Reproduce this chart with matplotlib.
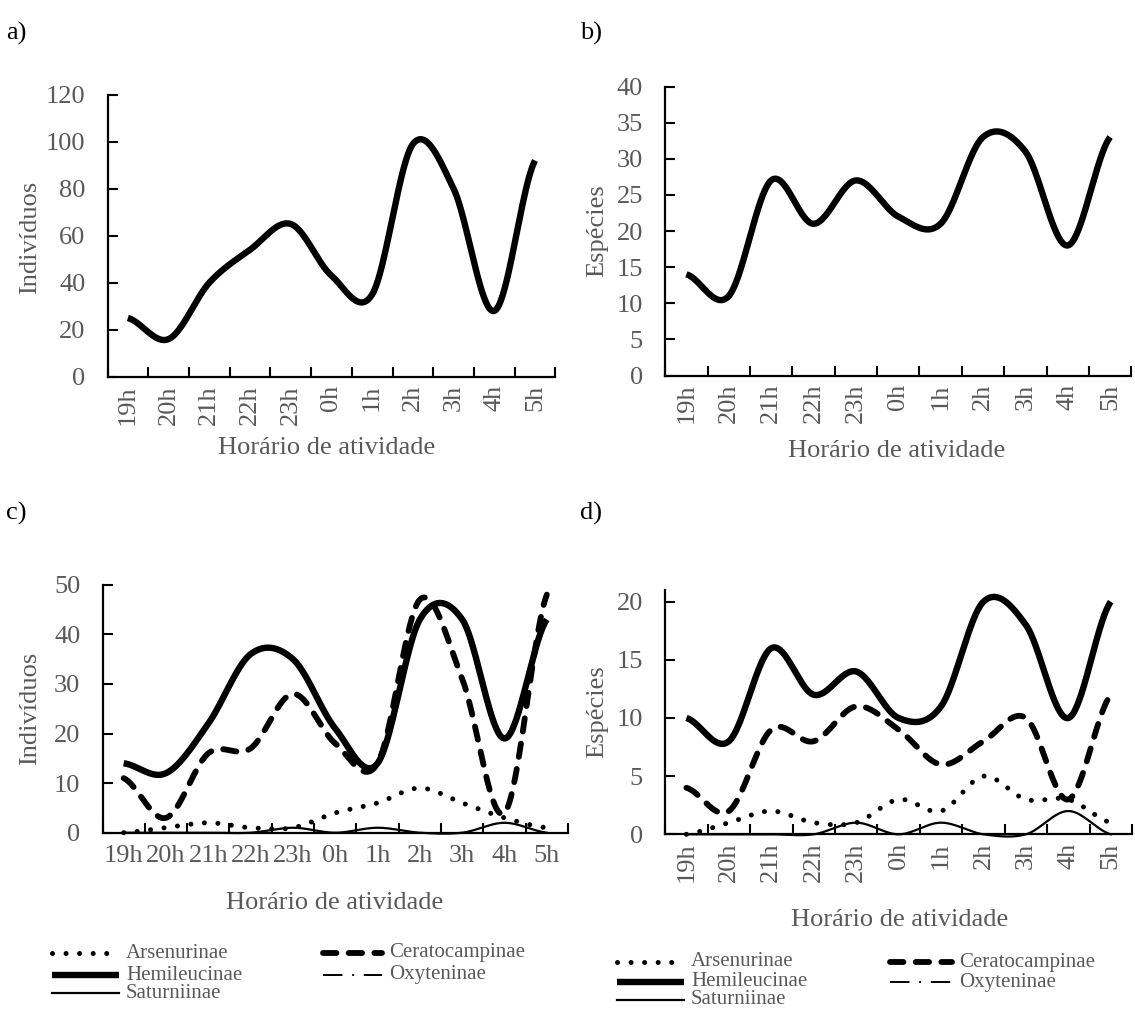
import numpy as np
import matplotlib
matplotlib.use('Agg')
import matplotlib.pyplot as plt
from matplotlib.lines import Line2D

# ---------------- data ----------------
hours = ['19h', '20h', '21h', '22h', '23h', '0h', '1h', '2h', '3h', '4h', '5h']
ind_total = [25, 16, 40, 54, 65, 43, 35, 99, 80, 28, 92]
spp_total = [14, 11, 27, 21, 27, 22, 21, 33, 31, 18, 33]

subfamilies = ['Arsenurinae', 'Ceratocampinae', 'Hemileucinae', 'Oxyteninae', 'Saturniinae']
ind_arsenurinae = [0, 1, 2, 1, 1, 4, 6, 9, 6, 3, 1]
ind_ceratocampinae = [11, 3, 16, 17, 28, 18, 14, 47, 31, 4, 48]
ind_hemileucinae = [14, 12, 22, 36, 35, 21, 14, 43, 43, 19, 43]
ind_oxyteninae = [0, 0, 0, 0, 0, 0, 0, 0, 0, 0, 0]
ind_saturniinae = [0, 0, 0, 0, 1, 0, 1, 0, 0, 2, 0]

spp_arsenurinae = [0, 1, 2, 1, 1, 3, 2, 5, 3, 3, 1]
spp_ceratocampinae = [4, 2, 9, 8, 11, 9, 6, 8, 10, 3, 12]
spp_hemileucinae = [10, 8, 16, 12, 14, 10, 11, 20, 18, 10, 20]
spp_oxyteninae = [0, 0, 0, 0, 0, 0, 0, 0, 0, 0, 0]
spp_saturniinae = [0, 0, 0, 0, 1, 0, 1, 0, 0, 2, 0]

# ---------------- style ----------------
plt.rcParams['font.family'] = ['Liberation Serif', 'DejaVu Serif']
GRAY = '#595959'
FS = 19
W, H = 1135, 1010
fig = plt.figure(figsize=(W / 100, H / 100), dpi=100)


def smooth(y, n=40):
    """Excel-like smoothed line (Catmull-Rom) through the data points."""
    y = np.asarray(y, float)
    p = np.concatenate([[y[0]], y, [y[-1]]])
    xs, ys = [], []
    m = len(y)
    for i in range(m - 1):
        p0, p1, p2, p3 = p[i], p[i + 1], p[i + 2], p[i + 3]
        t = np.linspace(0, 1, n, endpoint=(i == m - 2))
        m1 = (p2 - p0) / 2.0
        m2 = (p3 - p1) / 2.0
        h00 = 2 * t ** 3 - 3 * t ** 2 + 1
        h10 = t ** 3 - 2 * t ** 2 + t
        h01 = -2 * t ** 3 + 3 * t ** 2
        h11 = t ** 3 - t ** 2
        ys.append(h00 * p1 + h10 * m1 + h01 * p2 + h11 * m2)
        xs.append(i + t)
    return np.concatenate(xs), np.concatenate(ys)


def make_axes(left, right, y0, yref, yref_val, ymax):
    ppu = (y0 - yref) / yref_val
    top = y0 - ymax * ppu
    ax = fig.add_axes([left / W, 1 - y0 / H, (right - left) / W, (y0 - top) / H])
    ax.set_ylim(0, ymax)
    ax.set_xlim(-0.5, len(hours) - 0.5)
    for s in ['top', 'right']:
        ax.spines[s].set_visible(False)
    for s in ['left', 'bottom']:
        ax.spines[s].set_linewidth(1.6)
        ax.spines[s].set_color('black')
    ax.set_xticks(np.arange(-0.5, len(hours), 1.0))
    ax.set_xticklabels([])
    ax.tick_params(axis='x', which='major', direction='in', length=7, width=1.5, color='black')
    ax.set_xticks(np.arange(len(hours)), minor=True)
    ax.tick_params(axis='y', which='major', direction='in', length=7, width=1.5,
                   color='black', labelcolor=GRAY, labelsize=FS, pad=16)
    ax.patch.set_alpha(0)
    return ax


def set_hour_labels(ax, rotation, pad):
    ax.set_xticklabels(hours, minor=True, rotation=rotation, color=GRAY, fontsize=FS,
                       ha='center', va='top')
    ax.tick_params(axis='x', which='minor', length=0, pad=pad)


SPEC = {
    'Arsenurinae': dict(lw=3.6, ls=(0, (0.01, 2.7)), dash_capstyle='round'),
    'Ceratocampinae': dict(lw=4.2, ls=(0, (2.3, 2.1)), dash_capstyle='round'),
    'Hemileucinae': dict(lw=4.6, ls='-', solid_capstyle='butt'),
    'Oxyteninae': dict(lw=1.4, ls=(0, (10, 5, 1, 5))),
    'Saturniinae': dict(lw=1.6, ls='-'),
}


def draw_sub(ax, series):
    for name, vals in zip(subfamilies, series):
        xs, ys = smooth(vals)
        sp = SPEC[name]
        kw = {k: v for k, v in sp.items() if k not in ('lw', 'ls')}
        ax.plot(xs, ys, color='black', lw=sp['lw'], linestyle=sp['ls'], clip_on=False, **kw)


# ---------------- panel a ----------------
ax_a = make_axes(107.5, 555.4, 376.7, 94.7, 120, 120)
xs, ys = smooth(ind_total)
ax_a.plot(xs, ys, color='black', lw=4.6, solid_capstyle='butt')
ax_a.set_yticks(range(0, 121, 20))
set_hour_labels(ax_a, 90, 6)

# ---------------- panel b ----------------
ax_b = make_axes(665.2, 1131.3, 375.5, 86.5, 40, 40)
xs, ys = smooth(spp_total)
ax_b.plot(xs, ys, color='black', lw=4.6, solid_capstyle='butt')
ax_b.set_yticks(range(0, 41, 5))
set_hour_labels(ax_b, 90, 6)

# ---------------- panel c ----------------
ax_c = make_axes(102.5, 568.0, 832.7, 584.7, 50, 50)
draw_sub(ax_c, [ind_arsenurinae, ind_ceratocampinae, ind_hemileucinae,
                ind_oxyteninae, ind_saturniinae])
ax_c.set_yticks(range(0, 51, 10))
set_hour_labels(ax_c, 0, 9)

# ---------------- panel d ----------------
ax_d = make_axes(665.2, 1132.0, 834.3, 601.7, 20, 21)
draw_sub(ax_d, [spp_arsenurinae, spp_ceratocampinae, spp_hemileucinae,
                spp_oxyteninae, spp_saturniinae])
ax_d.set_yticks(range(0, 21, 5))
set_hour_labels(ax_d, 90, 6)


# ---------------- texts (pixel coordinates) ----------------
def ftext(x, y, s, **kw):
    fig.text(x / W, 1 - y / H, s, **kw)


for (x, y, s) in [(6, 33, 'a)'), (580, 33, 'b)'), (6, 513, 'c)'), (580, 513, 'd)')]:
    ftext(x, y, s, fontsize=FS, color='black', ha='left', va='center')

ftext(30, 237, 'Indivíduos', fontsize=FS, color=GRAY, rotation=90, ha='center', va='center')
ftext(327, 448, 'Horário de atividade', fontsize=FS, color=GRAY, ha='center', va='center')
ftext(597, 231, 'Espécies', fontsize=FS, color=GRAY, rotation=90, ha='center', va='center')
ftext(897, 451, 'Horário de atividade', fontsize=FS, color=GRAY, ha='center', va='center')
ftext(30, 708, 'Indivíduos', fontsize=FS, color=GRAY, rotation=90, ha='center', va='center')
ftext(335, 903, 'Horário de atividade', fontsize=FS, color=GRAY, ha='center', va='center')
ftext(597, 712, 'Espécies', fontsize=FS, color=GRAY, rotation=90, ha='center', va='center')
ftext(900, 920, 'Horário de atividade', fontsize=FS, color=GRAY, ha='center', va='center')


# ---------------- legends (drawn manually) ----------------
def legend_entry(x0, x1, y, name):
    sp = SPEC[name]
    kw = {k: v for k, v in sp.items() if k not in ('lw', 'ls')}
    ln = Line2D([x0 / W, x1 / W], [1 - y / H, 1 - y / H], transform=fig.transFigure,
                color='black', lw=sp['lw'], linestyle=sp['ls'], **kw)
    fig.add_artist(ln)
    ftext(x1 + 7, y, name, fontsize=15, color=GRAY, ha='left', va='center')


def legend_block(c1x0, c1x1, c2x0, c2x1, rows):
    legend_entry(c1x0, c1x1, rows[0], 'Arsenurinae')
    legend_entry(c2x0, c2x1, rows[0], 'Ceratocampinae')
    legend_entry(c1x0, c1x1, rows[1], 'Hemileucinae')
    legend_entry(c2x0, c2x1, rows[1], 'Oxyteninae')
    legend_entry(c1x0, c1x1, rows[2], 'Saturniinae')


legend_block(52, 119, 323, 382, [953, 975, 993])
legend_block(617, 684, 890, 952, [962, 982, 1000])

fig.savefig('out.png', dpi=100)
